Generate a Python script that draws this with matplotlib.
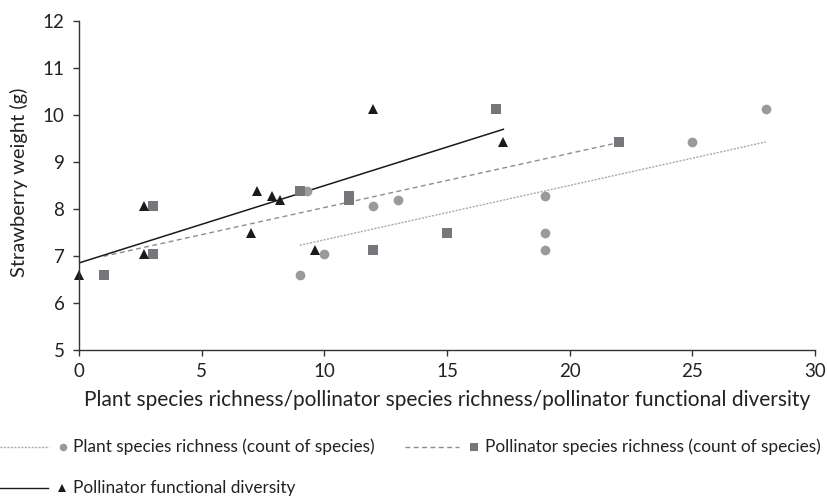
import matplotlib
matplotlib.use("Agg")
import matplotlib.pyplot as plt
from matplotlib.lines import Line2D
import numpy as np

plt.rcParams['font.family'] = ['Lato', 'DejaVu Sans']

# strawberry weight per site (g), same for every series
weight = [6.6, 7.05, 8.07, 7.5, 8.38, 8.28, 8.2, 7.13, 10.13, 9.43]

plant_x = [9, 10, 12, 13, 19, 19, 19, 25, 28, 9.3]
plant_y = [6.6, 7.05, 8.07, 8.2, 8.28, 7.5, 7.13, 9.43, 10.13, 8.38]

poll_x = [1, 3, 3, 15, 9, 11, 11, 12, 17, 22]
poll_y = [6.6, 7.05, 8.07, 7.5, 8.38, 8.28, 8.2, 7.13, 10.13, 9.43]

func_x = [0, 2.65, 2.65, 7.0, 7.25, 7.85, 8.2, 9.6, 12.0, 17.3]
func_y = weight

xticks = [0, 5, 10, 15, 20, 25, 30]
yticks = [5, 6, 7, 8, 9, 10, 11, 12]

c_plant = '#9a9a9c'
c_poll = '#77777b'
c_func = '#1a1a1a'
c_text = '#222222'

fig = plt.figure(figsize=(8.28, 4.96), dpi=100)
ax = fig.add_axes([79/828, 1-350/496, (815-79)/828, (350-21)/496])

def trend(x, y, **kw):
    k, b = np.polyfit(x, y, 1)
    xs = np.array([min(x), max(x)])
    ax.plot(xs, k*xs + b, **kw)

plant_ls = (0, (1.5, 1))
poll_ls = (0, (3.5, 2.5))
trend(plant_x, plant_y, color='#aaaaaa', lw=1.0, ls=plant_ls)
trend(poll_x, poll_y, color='#8c8c8c', lw=1.0, ls=poll_ls)
trend(func_x, func_y, color=c_func, lw=1.1, ls='-')

ax.plot(plant_x, plant_y, 'o', color=c_plant, ms=7, mew=0, clip_on=False)
ax.plot(poll_x, poll_y, 's', color=c_poll, ms=7, mew=0, clip_on=False)
ax.plot(func_x, func_y, '^', color=c_func, ms=7.5, mew=0, clip_on=False)

ax.set_xlim(0, 30)
ax.set_ylim(5, 12)
ax.set_xticks(xticks)
ax.set_yticks(yticks)
for s in ['top', 'right']:
    ax.spines[s].set_visible(False)
for s in ['left', 'bottom']:
    ax.spines[s].set_color('#333333')
    ax.spines[s].set_linewidth(1.0)
ax.tick_params(axis='both', labelsize=13.5, color='#333333', length=4.5, width=1, labelcolor=c_text)
ax.tick_params(axis='x', pad=5)
ax.tick_params(axis='y', pad=6)
ax.set_xlabel('Plant species richness/pollinator species richness/pollinator functional diversity',
              fontsize=15, color=c_text)
ax.xaxis.set_label_coords(0.5, -0.122)
ax.set_ylabel('Strawberry weight (g)', fontsize=14.5, color=c_text)
ax.yaxis.set_label_coords(-0.069, 0.51)

# legend drawn below the axes, Excel style
W, H = 828, 496
def legend_item(x0, x1, xm, xt, y, ls, lc, marker, mc, ms, text):
    fig.add_artist(Line2D([x0/W, x1/W], [1-y/H, 1-y/H], color=lc, lw=1.0, ls=ls))
    fig.add_artist(Line2D([xm/W], [1-y/H], marker=marker, color=mc, ms=ms, mew=0, ls='none'))
    fig.text(xt/W, 1-y/H, text, fontsize=12.4, color=c_text, va='center', ha='left')

legend_item(0, 49, 63, 73, 447, plant_ls, '#aaaaaa', 'o', c_plant, 5.5,
            'Plant species richness (count of species)')
legend_item(405, 459, 474, 485, 447, poll_ls, '#8c8c8c', 's', c_poll, 5.5,
            'Pollinator species richness (count of species)')
legend_item(0, 48, 62, 73, 488, '-', c_func, '^', c_func, 5.5,
            'Pollinator functional diversity')

fig.savefig('out.png', dpi=100)
